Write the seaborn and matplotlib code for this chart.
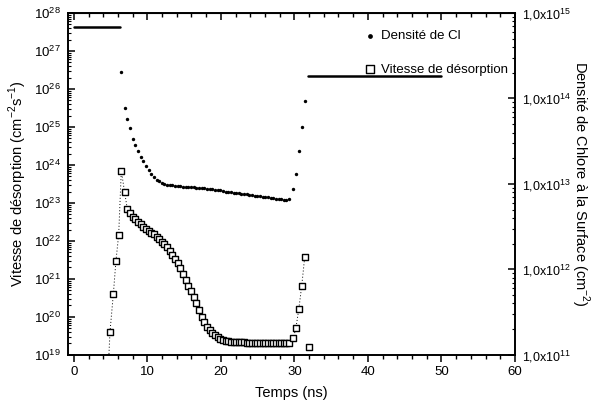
import matplotlib
matplotlib.use("Agg")
import matplotlib.pyplot as plt
import matplotlib.ticker as mticker
import numpy as np
import pandas as pd
import seaborn as sns

# temps (ns) commun aux deux series
temps = [4.92, 5.38, 5.73, 6.10, 6.46, 6.91, 7.28,
         7.63, 7.99, 8.36, 8.71, 9.08, 9.44, 9.80, 10.16, 10.53, 10.88,
         11.25, 11.61, 11.96, 12.33, 12.70, 13.05, 13.41, 13.78, 14.13, 14.50,
         14.86, 15.22, 15.58, 15.95, 16.30, 16.67, 17.03, 17.38, 17.75, 18.12,
         18.47, 18.83, 19.20, 19.55, 19.92, 20.28, 20.64, 21.00,
         21.36, 21.72, 22.08, 22.44, 22.80, 23.16, 23.52, 23.88, 24.24, 24.60,
         24.96, 25.32, 25.68, 26.04, 26.40, 26.76, 27.12, 27.48, 27.84, 28.20,
         28.56, 28.92, 29.28,
         29.85, 30.20, 30.60, 31.00, 31.40, 32.00]

# vitesse de desorption (cm-2 s-1), axe de gauche
vitesse = [4.1e19, 4.1e20, 3.0e21, 1.45e22, 7.1e23, 1.9e23, 6.8e22,
           5.4e22, 4.4e22, 3.7e22, 3.2e22, 2.75e22, 2.4e22, 2.1e22, 1.8e22, 1.66e22, 1.48e22,
           1.26e22, 1.12e22, 9.5e21, 8.3e21, 6.8e21, 5.5e21, 4.3e21, 3.4e21, 2.6e21, 1.9e21,
           1.35e21, 9.3e20, 6.6e20, 4.7e20, 3.3e20, 2.3e20, 1.48e20, 1.02e20, 7.2e19, 5.5e19,
           4.4e19, 3.7e19, 3.3e19, 2.95e19, 2.6e19, 2.4e19, 2.35e19, 2.3e19,
           2.25e19, 2.2e19, 2.2e19, 2.15e19, 2.15e19, 2.15e19, 2.1e19, 2.1e19, 2.1e19, 2.1e19,
           2.1e19, 2.1e19, 2.1e19, 2.05e19, 2.05e19, 2.05e19, 2.05e19, 2.05e19, 2.05e19, 2.0e19,
           2.0e19, 2.05e19, 2.1e19,
           2.75e19, 5.0e19, 1.6e20, 6.6e20, 3.7e21, 1.6e19]

# densite de chlore en surface (cm-2), axe de droite
densite = [np.nan, np.nan, np.nan, np.nan, 2.04e14, 7.7e13, 5.7e13,
           4.5e13, 3.4e13, 2.85e13, 2.4e13, 2.07e13, 1.84e13, 1.62e13, 1.46e13, 1.31e13, 1.2e13,
           1.12e13, 1.07e13, 1.03e13, 1.0e13, 9.7e12, 9.6e12, 9.6e12, 9.5e12, 9.5e12, 9.4e12,
           9.3e12, 9.25e12, 9.2e12, 9.15e12, 9.1e12, 9.05e12, 9.0e12, 8.95e12, 8.9e12, 8.8e12,
           8.75e12, 8.7e12, 8.6e12, 8.5e12, 8.4e12, 8.3e12, 8.15e12, 8.05e12,
           7.95e12, 7.9e12, 7.8e12, 7.75e12, 7.7e12, 7.6e12, 7.55e12, 7.45e12, 7.4e12, 7.3e12,
           7.25e12, 7.2e12, 7.1e12, 7.05e12, 7.0e12, 6.9e12, 6.8e12, 6.75e12, 6.65e12, 6.6e12,
           6.5e12, 6.45e12, 6.6e12,
           8.75e12, 1.31e13, 2.43e13, 4.6e13, 9.4e13, np.nan]

# debut du trace pointille (sous l'axe)
debut_t = [4.70]
debut_v = [5e18]

# densite stationnaire (plasma allume)
palier1_t = [0.0, 6.3]
palier1_v = [6.85e14, 6.85e14]
palier2_t = [31.8, 50.0]
palier2_v = [1.83e14, 1.83e14]

df = pd.DataFrame({"temps": temps, "vitesse": vitesse, "densite": densite})
trace = pd.concat([pd.DataFrame({"temps": debut_t, "vitesse": debut_v}),
                   df.loc[df["temps"] <= 31.4, ["temps", "vitesse"]]], ignore_index=True)
paliers1 = pd.DataFrame({"temps": palier1_t, "densite": palier1_v})
paliers2 = pd.DataFrame({"temps": palier2_t, "densite": palier2_v})

sns.set_style("ticks")
plt.rcParams["font.family"] = ["Liberation Sans", "DejaVu Sans"]
plt.rcParams["mathtext.fontset"] = "custom"
plt.rcParams["mathtext.rm"] = "Liberation Sans"
for k in ("axes.edgecolor", "text.color", "axes.labelcolor", "xtick.color", "ytick.color"):
    plt.rcParams[k] = "black"

fig = plt.figure(figsize=(5.96, 4.07), dpi=100)
ax = fig.add_axes([0.114, 0.128, 0.750, 0.840])
ax2 = ax.twinx()

# vitesse de desorption
sns.lineplot(data=trace, x="temps", y="vitesse", ax=ax, sort=False, estimator=None,
             color="black", linewidth=0.7, linestyle=(0, (1, 2.2)), legend=False)
sns.scatterplot(data=df, x="temps", y="vitesse", ax=ax, marker="s", s=13,
                facecolor="white", edgecolor="black", linewidth=1.0,
                label="Vitesse de désorption", zorder=3)

# densite de Cl
sns.scatterplot(data=df.dropna(), x="temps", y="densite", ax=ax2, marker="o", s=6,
                color="black", edgecolor="black", linewidth=0, label="Densité de Cl")
for pal in (paliers1, paliers2):
    sns.lineplot(data=pal, x="temps", y="densite", ax=ax2, color="black",
                 linewidth=1.8, estimator=None, legend=False)

ax.set_yscale("log")
ax.set_ylim(1e19, 1e28)
ax.set_xlim(-0.8, 60)
ax2.set_yscale("log")
ax2.set_ylim(1e11, 1e15)

ax.xaxis.set_major_locator(mticker.MultipleLocator(10))
ax.xaxis.set_minor_locator(mticker.MultipleLocator(2))
ax.yaxis.set_major_locator(mticker.LogLocator(base=10, numticks=20))
ax.yaxis.set_minor_locator(mticker.LogLocator(base=10, subs=np.arange(2, 10), numticks=20))
ax.yaxis.set_minor_formatter(mticker.NullFormatter())
ax2.yaxis.set_major_locator(mticker.LogLocator(base=10, numticks=20))
ax2.yaxis.set_minor_locator(mticker.LogLocator(base=10, subs=np.arange(2, 10), numticks=20))
ax2.yaxis.set_minor_formatter(mticker.NullFormatter())
ax2.yaxis.set_major_formatter(
    mticker.FuncFormatter(lambda v, p: "1,0x10$^{%d}$" % round(np.log10(v))))

ax.tick_params(axis="x", which="major", direction="out", length=5, width=1.1, labelsize=9.5, pad=3)
ax.tick_params(axis="x", which="minor", direction="out", length=3, width=1.0)
ax.tick_params(axis="y", which="major", direction="in", length=5, width=1.1, labelsize=9.5, pad=5)
ax.tick_params(axis="y", which="minor", direction="in", length=2.5, width=0.8)
ax2.tick_params(axis="y", which="major", direction="in", length=5, width=1.1, labelsize=9, pad=5)
ax2.tick_params(axis="y", which="minor", direction="in", length=2.5, width=0.8)

top = ax.secondary_xaxis("top")
top.xaxis.set_major_locator(mticker.MultipleLocator(10))
top.xaxis.set_minor_locator(mticker.MultipleLocator(2))
top.tick_params(which="major", direction="in", length=5, width=1.1, labeltop=False)
top.tick_params(which="minor", direction="in", length=3, width=1.0)

for a in (ax, ax2):
    for sp in a.spines.values():
        sp.set_linewidth(1.2)
        sp.set_visible(True)

ax.set_xlabel("Temps (ns)", fontsize=10.5, labelpad=6)
ax.set_ylabel("Vitesse de désorption (cm$^{-2}$s$^{-1}$)", fontsize=10.5, labelpad=4)
ax2.set_ylabel("Densité de Chlore à la Surface (cm$^{-2}$)", fontsize=10.5,
               rotation=270, va="center", ha="center")
ax2.yaxis.set_label_coords(1.145, 0.5)

h1, l1 = ax2.get_legend_handles_labels()
h2, l2 = ax.get_legend_handles_labels()
if ax.get_legend() is not None:
    ax.get_legend().remove()
ax2.legend(h1 + h2, l1 + l2, loc="upper right", bbox_to_anchor=(1.01, 0.985),
           frameon=False, fontsize=9.5, labelspacing=1.6, handletextpad=0.3,
           handlelength=1.0, markerscale=1.4)

fig.savefig("out.png", dpi=100)
